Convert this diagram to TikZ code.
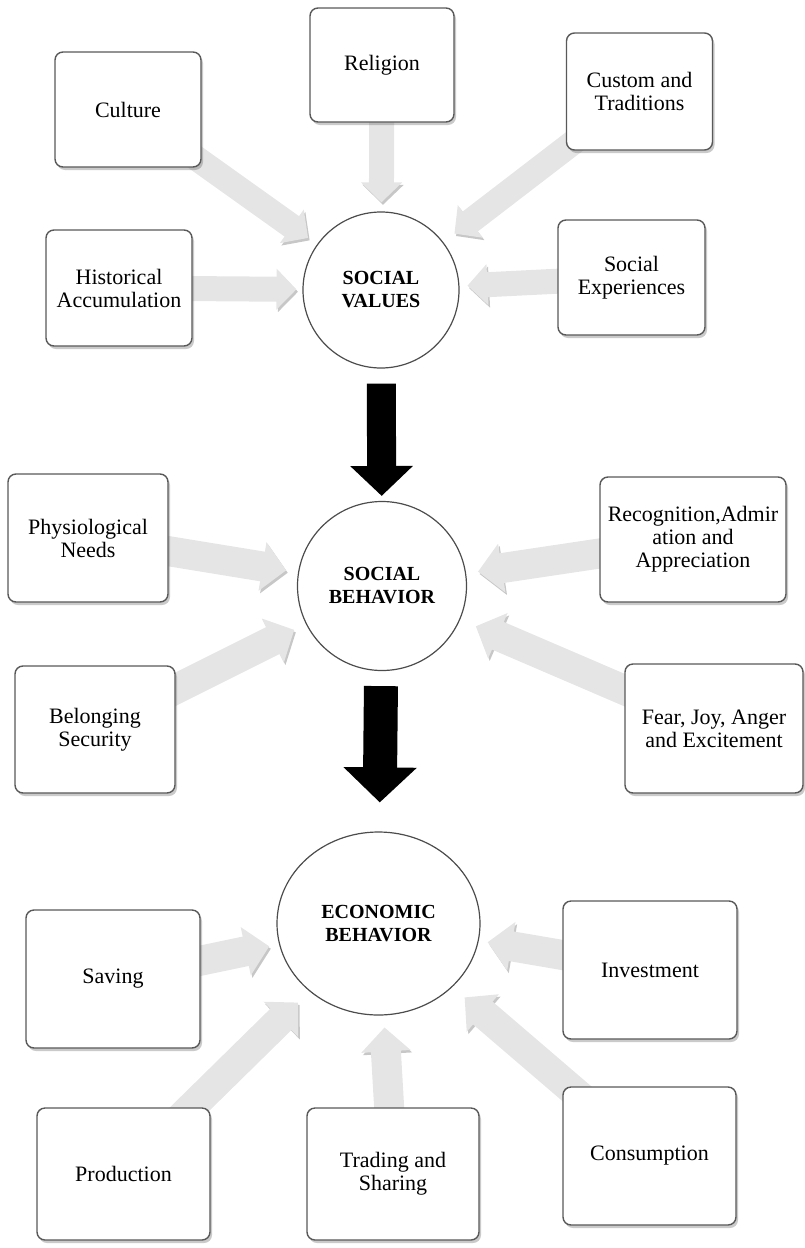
\documentclass[tikz,border=0pt]{standalone}
\usepackage{fontspec}
\setmainfont{Liberation Serif}
\usetikzlibrary{arrows.meta,shapes.geometric,shadows,backgrounds}

\tikzset{
  box/.style={draw=black!65, line width=0.7pt, rounded corners=4pt, fill=white,
    align=center, inner sep=2pt, minimum width=73pt, minimum height=57.5pt,
    font=\fontsize{11}{11.5}\selectfont,
    drop shadow={shadow xshift=1pt, shadow yshift=-1.5pt, fill=black!60, opacity=0.35}},
  hub/.style={draw=black!70, line width=0.6pt, fill=white, align=center,
    inner sep=0pt, font=\fontsize{10}{11.5}\selectfont\bfseries},
  feed/.style={line width=#1, draw=black!10, -{Triangle[length=0pt 0.8,width=0pt 1.6]},
    preaction={draw=black!22, transform canvas={shift={(0.8pt,-1.2pt)}}}},
  flow/.style={line width=#1, draw=black, -{Triangle[length=0pt 1.03,width=0pt 2.1]}},
}

\begin{document}
\begin{tikzpicture}[x=0.5pt,y=-0.5pt]
\useasboundingbox (0,0) rectangle (804,1248);

% social values
\node[hub, circle, minimum size=78pt] (sv) at (381,290) {SOCIAL\\VALUES};
\node[box, minimum width=72pt, minimum height=57pt] (rel) at (382,65) {Religion};
\node[box] (cult) at (128,109.5) {Culture};
\node[box, minimum height=58.5pt] (cust) at (639.5,91.5) {Custom and\\Traditions};
\node[box, minimum height=58pt] (hist) at (119,288) {Historical\\Accumulation};
\node[box, minimum width=73.5pt] (sexp) at (631.5,277.5) {Social\\Experiences};

% social behavior
\node[hub, circle, minimum size=84.5pt] (sb) at (382,586) {SOCIAL\\BEHAVIOR};
\node[box, minimum width=80pt, minimum height=64pt] (phys) at (88,538) {Physiological\\Needs};
\node[box, minimum width=93pt, minimum height=62.5pt] (recog) at (693,539.5) {Recognition,Admir\\ation and\\Appreciation};
\node[box, minimum width=80pt, minimum height=63.5pt] (belong) at (95,729.5) {Belonging\\Security};
\node[box, minimum width=89pt, minimum height=64.5pt] (fear) at (714,728.5) {Fear, Joy, Anger\\and Excitement};

% economic behavior
\node[hub, ellipse, minimum width=101.5pt, minimum height=91.5pt] (econ) at (378.5,923.5) {ECONOMIC\\BEHAVIOR};
\node[box, minimum width=87pt, minimum height=69pt] (sav) at (113,979) {Saving};
\node[box, minimum width=87pt, minimum height=69pt] (inv) at (650,970) {Investment};
\node[box, minimum width=86.5pt, minimum height=66pt] (prod) at (123.5,1174) {Production};
\node[box, minimum width=86pt, minimum height=66pt] (trad) at (393,1174) {Trading and\\Sharing};
\node[box, minimum width=86.5pt, minimum height=69pt] (cons) at (649.5,1156) {Consumption};

\begin{scope}[on background layer]
  \draw[feed=12.5pt, shorten >=5.5pt] (cult.center) -- (sv);
  \draw[feed=12.5pt, shorten >=4.5pt] (rel.center) -- (sv);
  \draw[feed=12.5pt, shorten >=7pt] (cust.center) -- (sv);
  \draw[feed=12.5pt, shorten >=3pt] (hist.center) -- (sv);
  \draw[feed=12.5pt, shorten >=4pt] (sexp.center) -- (sv);

  \draw[feed=15pt, shorten >=6pt] (phys.center) -- (sb);
  \draw[feed=15pt, shorten >=6pt] (recog.center) -- (sb);
  \draw[feed=15pt, shorten >=6.5pt] (belong.center) -- (sb);
  \draw[feed=15pt, shorten >=8.5pt] (fear.center) -- (sb);

  \draw[feed=15pt, shorten >=5pt] (sav.center) -- (econ);
  \draw[feed=15pt, shorten >=4.5pt] (inv.center) -- (econ);
  \draw[feed=15pt, shorten >=8pt] (prod.center) -- (econ);
  \draw[feed=15pt, shorten >=6pt] (trad.center) -- (econ);
  \draw[feed=15pt, shorten >=8pt] (cons.center) -- (econ);
\end{scope}

\draw[flow=14.5pt, shorten <=7.5pt, shorten >=2.5pt] (sv) -- (sb);
\draw[flow=17pt, shorten <=7.5pt, shorten >=14.5pt] (sb) -- (econ);
\end{tikzpicture}
\end{document}
